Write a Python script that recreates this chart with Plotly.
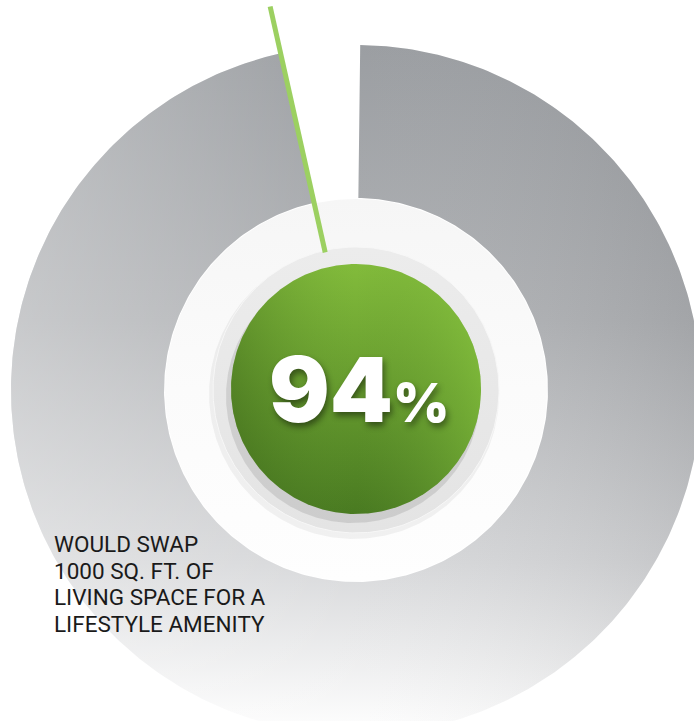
import numpy as np
import plotly.graph_objects as go

# ---- data ----
headline_value = [94]                 # percent shown in the centre
ring_parts = [96.3, 3.7]              # drawn arc vs. gap (share of the full circle, as pictured)
caption_lines = ["WOULD SWAP", "1000 SQ. FT. OF", "LIVING SPACE FOR A", "LIFESTYLE AMENITY"]

# ---- geometry / style ----
W, H = 694, 721
CX, CY = 356, 390
R_OUT, R_IN = 345, 192
R_PLATE = 143
R_GREEN = 125
START_DEG = 0.7   # ring starts just right of 12 o'clock and runs clockwise


def arc(r, a0, a1, n=400, cx=CX, cy=CY):
    t = np.radians(np.linspace(a0, a1, n))
    return cx + r * np.sin(t), cy - r * np.cos(t)


def disk(r, cx=CX, cy=CY, n=360):
    return arc(r, 0, 360, n, cx, cy)


fill_deg = ring_parts[0] / sum(ring_parts) * 360.0
end_deg = START_DEG + fill_deg

xo, yo = arc(R_OUT, START_DEG, end_deg)
xi, yi = arc(R_IN, end_deg, START_DEG)
ring_x = np.concatenate([xo, xi, xo[:1]])
ring_y = np.concatenate([yo, yi, yo[:1]])

fig = go.Figure()

# gray ring, vertical gradient
fig.add_trace(go.Scatter(
    x=ring_x, y=ring_y, mode="lines", line=dict(width=0), fill="toself",
    fillgradient=dict(type="vertical", start=CY - R_OUT, stop=CY + R_OUT,
                      colorscale=[[0, "#989b9f"], [0.4, "#afb1b4"], [0.75, "#d6d7d9"], [1, "#ffffff"]]),
    hoverinfo="skip", showlegend=False))
# horizontal light/dark overlay to make the gradient diagonal
fig.add_trace(go.Scatter(
    x=ring_x, y=ring_y, mode="lines", line=dict(width=0), fill="toself",
    fillgradient=dict(type="horizontal", start=CX - R_OUT, stop=CX + R_OUT,
                      colorscale=[[0, "rgba(255,255,255,0.32)"], [0.5, "rgba(255,255,255,0.03)"],
                                  [1, "rgba(90,92,96,0.15)"]]),
    hoverinfo="skip", showlegend=False))

# white inner disk
dx, dy = disk(R_IN - 1)
fig.add_trace(go.Scatter(
    x=dx, y=dy, mode="lines", line=dict(width=0), fill="toself",
    fillgradient=dict(type="vertical", start=CY - R_IN, stop=CY + R_IN,
                      colorscale=[[0, "#f6f6f6"], [0.5, "#fbfbfb"], [1, "#fefefe"]]),
    hoverinfo="skip", showlegend=False))

# soft shadow under plate
sx, sy = disk(R_PLATE + 2, CX - 2, CY + 4)
fig.add_trace(go.Scatter(x=sx, y=sy, mode="lines", line=dict(width=0), fill="toself",
                         fillcolor="rgba(0,0,0,0.05)", hoverinfo="skip", showlegend=False))
# light gray plate
px, py = disk(R_PLATE)
fig.add_trace(go.Scatter(
    x=px, y=py, mode="lines", line=dict(width=1, color="#f7f7f7"), fill="toself",
    fillgradient=dict(type="vertical", start=CY - R_PLATE, stop=CY + R_PLATE,
                      colorscale=[[0, "#ececec"], [1, "#e4e4e4"]]),
    hoverinfo="skip", showlegend=False))

# shadow under green disk
gx, gy = disk(R_GREEN + 2, CX - 3, CY + 6)
fig.add_trace(go.Scatter(x=gx, y=gy, mode="lines", line=dict(width=0), fill="toself",
                         fillcolor="rgba(0,0,0,0.10)", hoverinfo="skip", showlegend=False))

# green disk
gx, gy = disk(R_GREEN, CX, CY - 1)
fig.add_trace(go.Scatter(
    x=gx, y=gy, mode="lines", line=dict(width=0), fill="toself",
    fillgradient=dict(type="vertical", start=CY - R_GREEN, stop=CY + R_GREEN,
                      colorscale=[[0, "#82bb3b"], [1, "#497a21"]]),
    hoverinfo="skip", showlegend=False))
fig.add_trace(go.Scatter(
    x=gx, y=gy, mode="lines", line=dict(width=0), fill="toself",
    fillgradient=dict(type="horizontal", start=CX - R_GREEN, stop=CX + R_GREEN,
                      colorscale=[[0, "rgba(40,75,15,0.30)"], [0.5, "rgba(100,150,50,0)"],
                                  [1, "rgba(150,215,70,0.40)"]]),
    hoverinfo="skip", showlegend=False))

# green pointer line along the gap edge
t = np.radians(end_deg)
line_r = np.array([R_PLATE - 2, R_OUT + 48])
fig.add_trace(go.Scatter(
    x=CX + line_r * np.sin(t), y=CY - line_r * np.cos(t), mode="lines",
    line=dict(color="#9cd061", width=5), hoverinfo="skip", showlegend=False))

fig.add_annotation(
    x=CX + 3, y=CY - 1, xref="x", yref="y", xanchor="center", yanchor="middle", showarrow=False,
    text=f"{headline_value[0]}<span style='font-size:54px'>%</span>",
    font=dict(family="Inter", size=90, color="white", weight=900,
              shadow="2px 4px 6px rgba(0,0,0,0.45)"))

for i, line in enumerate(caption_lines):
    fig.add_annotation(
        x=52, y=544 + i * 26.7, xref="x", yref="y", xanchor="left", yanchor="middle",
        showarrow=False, align="left", text=line,
        font=dict(family="Roboto", size=22.5, color="#1a1a1a"))

fig.update_layout(
    width=W, height=H, margin=dict(l=0, r=0, t=0, b=0),
    paper_bgcolor="white", plot_bgcolor="white",
    xaxis=dict(range=[0, W], visible=False, fixedrange=True),
    yaxis=dict(range=[H, 0], visible=False, fixedrange=True),
)

fig.write_html("out.html", config={"displayModeBar": False},
               post_script="document.body.style.margin='0';document.body.style.overflow='hidden';")
